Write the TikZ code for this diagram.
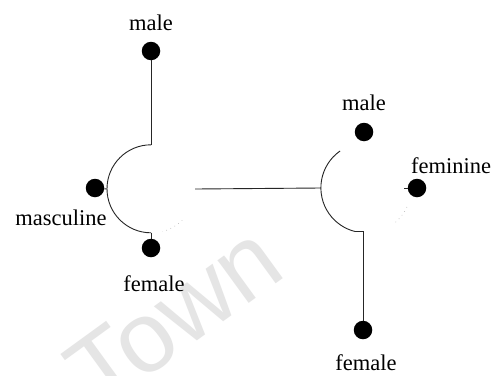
\documentclass[tikz,border=0pt]{standalone}
\usepackage{fontspec}
\setmainfont{Liberation Serif}
\newfontfamily\wmfont{Liberation Sans}
\begin{document}
\begin{tikzpicture}[x=1pt,y=1pt,
  dot/.style={circle,fill=black,draw=none,minimum size=18.5pt,inner sep=0pt},
  lbl/.style={anchor=base,inner sep=0pt,font=\fontsize{22.5}{24}\selectfont},
  ring/.style={circle,draw=none,inner sep=0pt},
  wire/.style={line width=0.9pt,draw=black!85},
  faint/.style={loosely dotted,line width=0.6pt,draw=gray!60},
  watermark/.style={anchor=base,inner sep=0pt,text=black!10,font=\wmfont\fontsize{100}{100}\selectfont}]
\useasboundingbox (0,0) rectangle (500,-375);
\fill[white] (0,0) rectangle (500,-375);
% watermark
\node[watermark,rotate=36] (wm) at (194,-343) {Town};
% left group
\node[ring,minimum size=88pt] (Lc) at (151,-189) {};
\node[dot] (lmale) at (151,-51) {};
\node[dot] (lmasc) at (95,-188) {};
\node[dot] (lfem) at (151,-248) {};
\node[lbl] (lmaleT) at (151,-30) {male};
\node[lbl] (lmascT) at (61,-225) {masculine};
\node[lbl] (lfemT) at (154,-291) {female};
\draw[wire] (lmale) -- (Lc.north);
\draw[wire] (Lc.north) arc[start angle=90,end angle=270,radius=44pt];
\draw[faint] (Lc.-45) arc[start angle=-45,end angle=-75,radius=44pt];
\draw[wire] (lmasc) -- (Lc.west);
\draw[wire] (Lc.south) -- (lfem);
% right group
\node[ring,minimum size=90pt] (Rc) at (366,-188) {};
\node[dot] (rmale) at (364,-132) {};
\node[dot] (rfemn) at (417,-188) {};
\node[dot] (rfem) at (363,-330) {};
\coordinate (tick) at (404,-188);
\node[lbl] (rmaleT) at (364,-110) {male};
\node[lbl] (rfemnT) at (451,-173) {feminine};
\node[lbl] (rfemT) at (366,-370) {female};
\draw[wire] (Rc.125) arc[start angle=125,end angle=256,radius=45pt];
\draw[faint] (Rc.-25) arc[start angle=-25,end angle=-50,radius=45pt];
\draw[wire] (Rc.256) -| (rfem);
\draw[wire] (tick) -- (rfemn);
% connector between the two rings
\draw[wire] (Lc.east) -- (Rc.west);
\end{tikzpicture}
\end{document}
